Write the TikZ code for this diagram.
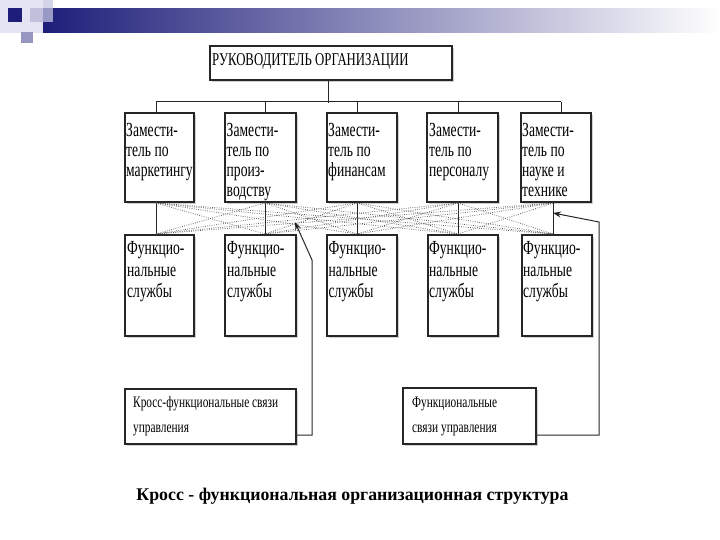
\documentclass[tikz,border=0pt]{standalone}
\usepackage{fontspec}
\setmainfont{Liberation Serif}
\newfontfamily\narrowf[FakeStretch=0.68]{Liberation Serif}
\newfontfamily\titlef[FakeStretch=0.71]{Liberation Serif}
\newfontfamily\legf[FakeStretch=0.71]{Liberation Serif}
\usetikzlibrary{shadows,arrows.meta,calc}
\definecolor{navy}{RGB}{30,30,122}
\definecolor{midlav}{RGB}{150,150,182}
\definecolor{palelav}{RGB}{228,228,242}
\definecolor{lightlav}{RGB}{184,184,216}
\definecolor{greylav}{RGB}{150,150,192}
\begin{document}
\begin{tikzpicture}[x=1pt,y=-1pt,
  box/.style={draw=black!85, line width=1.1pt, fill=white, inner sep=0pt,
    drop shadow={shadow xshift=1.6pt, shadow yshift=-1.6pt, fill=black!30, opacity=0.6}},
  boxtext/.style={inner sep=0pt, anchor=north west, align=left,
    font=\narrowf\fontsize{20}{20}\selectfont},
  funtext/.style={boxtext, font=\narrowf\fontsize{20}{21.5}\selectfont},
  legtext/.style={inner sep=0pt, anchor=north west, align=left,
    font=\legf\fontsize{16}{25}\selectfont},
  conn/.style={draw=black!85, line width=1pt},
  dotline/.style={draw=black!65, line width=0.75pt, dash pattern=on 0.75pt off 1.5pt},
  arr/.style={draw=black!85, line width=1pt, -{Stealth[length=8pt,width=6pt]}}
]
\useasboundingbox (0,0) rectangle (720,540);
% header decoration
\fill[palelav] (0,0) rectangle (43,33);
\shade[left color=navy, middle color=midlav, right color=white] (43,9) rectangle (720,33);
\fill[lightlav, opacity=0.8] (30,8) rectangle (53,22);
\fill[lightlav, opacity=0.6] (43,0) rectangle (53,8);
\fill[navy] (8,8) rectangle (22,22);
\fill[greylav] (21,32) rectangle (33,43);

% top box
\node[box, minimum width=242pt, minimum height=34pt] (top) at (331,63) {};
\node[inner sep=0pt, anchor=west, font=\titlef\fontsize{18}{18}\selectfont] (topt) at (212,61) {РУКОВОДИТЕЛЬ ОРГАНИЗАЦИИ};

% deputies
\node[box, minimum width=69pt, minimum height=89pt] (d1) at (159.5,157.5) {};
\node[box, minimum width=71pt, minimum height=89pt] (d2) at (260.5,157.5) {};
\node[box, minimum width=70pt, minimum height=89pt] (d3) at (362,157.5) {};
\node[box, minimum width=71pt, minimum height=89pt] (d4) at (462.5,157.5) {};
\node[box, minimum width=70pt, minimum height=89pt] (d5) at (556,157.5) {};
\node[boxtext] (d1t) at (126,123) {Замести-\\тель по\\маркетингу};
\node[boxtext] (d2t) at (226.5,123) {Замести-\\тель по\\произ-\\водству};
\node[boxtext] (d3t) at (328,123) {Замести-\\тель по\\финансам};
\node[boxtext] (d4t) at (429,123) {Замести-\\тель по\\персоналу};
\node[boxtext] (d5t) at (522,123) {Замести-\\тель по\\науке и\\технике};

% functional services
\node[box, minimum width=69pt, minimum height=101pt] (f1) at (159.5,285.5) {};
\node[box, minimum width=71pt, minimum height=101pt] (f2) at (260.5,285.5) {};
\node[box, minimum width=70pt, minimum height=101pt] (f3) at (362,285.5) {};
\node[box, minimum width=70pt, minimum height=101pt] (f4) at (463,285.5) {};
\node[box, minimum width=70pt, minimum height=101pt] (f5) at (557,285.5) {};
\foreach \i/\x in {1/127,2/227,3/328.5,4/429,5/523}{
  \node[funtext] (f\i t) at (\x,241.5) {Функцио-\\нальные\\службы};
}

% bus and drops
\coordinate (bus) at ($(top.south)+(-3,22)$);
\draw[conn] ($(top.south)+(-3,0)$) -- (bus);
\draw[conn] (156,102) -- (561,102);
\foreach \i/\x in {1/156,2/265,3/357,4/458,5/561}{
  \draw[conn] (\x,102) -- (\x,102 |- d\i.north);
}
% lower verticals
\foreach \i/\x in {1/156,2/265,3/357,4/458,5/553}{
  \coordinate (u\i) at (\x,203);
  \coordinate (o\i) at (\x,234);
  \draw[conn] (\x,0 |- d\i.south) -- (\x,0 |- f\i.north);
}
% cross-functional dotted links
\foreach \i in {1,...,5}{
  \foreach \j in {1,...,5}{
    \ifnum\i=\j\else
      \draw[dotline] (u\i) -- (o\j);
    \fi
  }
}

% legends
\node[box, minimum width=171pt, minimum height=55pt] (l1) at (210.5,416.5) {};
\node[legtext] (l1t) at (133,396.5) {Кросс-функциональные связи\\управления};
\node[box, minimum width=133pt, minimum height=56pt] (l2) at (469.5,416) {};
\node[legtext] (l2t) at (412,396.5) {Функциональные\\связи управления};

\coordinate (a1a) at (312,435);
\coordinate (a1b) at (312,260);
\coordinate (a1c) at (295,222);
\draw[arr] (l1.east |- a1a) -- (a1a) -- (a1b) -- (a1c);
\coordinate (a2a) at (599,435);
\coordinate (a2b) at (599,222);
\coordinate (a2c) at (553,213);
\draw[arr] (l2.east |- a2a) -- (a2a) -- (a2b) -- (a2c);

% caption
\node[inner sep=0pt, anchor=base, font=\bfseries\fontsize{17.8}{20}\selectfont] (cap) at (352.5,500) {Кросс - функциональная организационная структура};
\end{tikzpicture}
\end{document}
